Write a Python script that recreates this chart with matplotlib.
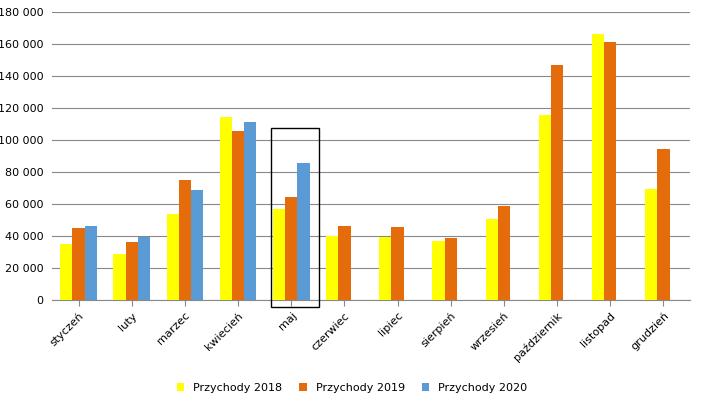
import matplotlib
matplotlib.use("Agg")
import matplotlib.pyplot as plt
import numpy as np
from matplotlib.patches import Rectangle

months = ["styczeń","luty","marzec","kwiecień","maj","czerwiec","lipiec","sierpień","wrzesień","październik","listopad","grudzień"]
p2018 = [35000,29000,54000,114500,57000,40000,39500,37000,50500,115500,166000,69500]
p2019 = [45000,36000,75000,105500,64500,46500,45800,38500,58500,147000,161000,94500]
p2020 = [46500,39500,69000,111500,85500,None,None,None,None,None,None,None]

fig = plt.figure(figsize=(7.04,4.03), dpi=100)
ax = fig.add_axes([52/704, 1-300/403, 638/704, 288/403])
x = np.arange(len(months))
w = 0.23
ax.bar(x-w, p2018, w, color="#ffff00", label="Przychody 2018", zorder=3)
ax.bar(x, p2019, w, color="#e46c0a", label="Przychody 2019", zorder=3)
x20 = [xi+w for xi,v in zip(x,p2020) if v is not None]
v20 = [v for v in p2020 if v is not None]
ax.bar(x20, v20, w, color="#5b9bd5", label="Przychody 2020", zorder=3)
ax.set_xlim(-0.5, len(months)-0.5)
ax.set_ylim(0,180000)
ax.set_yticks(range(0,180001,20000))
ax.set_yticklabels([f"{v:,}".replace(",", "\u00a0") for v in range(0,180001,20000)], fontsize=8)
ax.set_xticks(x)
ax.set_xticklabels(months, rotation=45, ha="right", rotation_mode="anchor", fontsize=8)
ax.grid(axis="y", color="#888888", linewidth=0.8, zorder=0)
for s in ["top","right","left"]:
    ax.spines[s].set_visible(False)
ax.spines["bottom"].set_color("#888888")
ax.tick_params(axis="y", length=0, pad=6)
ax.tick_params(axis="x", length=4, color="#888888")
ax.add_patch(Rectangle((3.62,-4500), 0.9, 112000, fill=False, edgecolor="black", linewidth=1, clip_on=False, zorder=4))
fig.legend(loc="lower center", bbox_to_anchor=(0.5,0.0), ncol=3, frameon=False, fontsize=8, handlelength=0.7, handleheight=0.7, columnspacing=1.5)
fig.savefig("out.png", dpi=100)
